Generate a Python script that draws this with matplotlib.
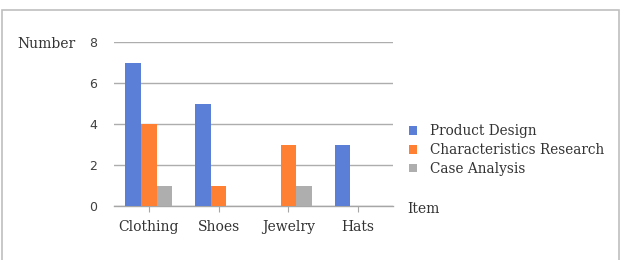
import matplotlib
matplotlib.use("Agg")
import matplotlib.pyplot as plt
import numpy as np
from matplotlib.patches import Rectangle

# data
items = ['Clothing', 'Shoes', 'Jewelry', 'Hats']
product_design = [7, 5, 0, 3]
characteristics_research = [4, 1, 3, 0]
case_analysis = [1, 0, 1, 0]
series_names = ['Product Design', 'Characteristics Research', 'Case Analysis']
colors = ['#5B7FD7', '#FF8033', '#AEAEAE']

serif = 'DejaVu Serif'

W, H = 625, 260
fig = plt.figure(figsize=(W / 100, H / 100), dpi=100)

# outer frame of the chart (bottom edge runs off the picture)
fig.patches.append(Rectangle((2 / W, -0.05), 617 / W, 250 / H + 0.05,
                             transform=fig.transFigure, fill=False,
                             edgecolor='#BFBFBF', linewidth=1.2))

ax = fig.add_axes([114 / W, 1 - 206 / H, (393 - 114) / W, (206 - 42) / H])

x = np.arange(len(items))
w = 0.225
for i, (vals, name) in enumerate(zip([product_design, characteristics_research, case_analysis], series_names)):
    ax.bar(x + (i - 1) * w, vals, w, color=colors[i], label=name, zorder=3)

ax.set_xlim(-0.5, len(items) - 0.5)
ax.set_ylim(0, 8)
ax.set_yticks([0, 2, 4, 6, 8])
ax.yaxis.grid(True, color='#ADADAD', linewidth=1.0, zorder=0)
ax.set_axisbelow(True)
for s in ['left', 'right', 'top']:
    ax.spines[s].set_visible(False)
ax.spines['bottom'].set_color('#A6A6A6')
ax.spines['bottom'].set_linewidth(1.0)

ax.set_xticks(x)
ax.set_xticklabels(items, fontfamily=serif, fontsize=10, color='#333333')
ax.tick_params(axis='x', length=4, color='#A6A6A6', pad=6)
ax.tick_params(axis='y', length=0, labelsize=9, colors='#404040', pad=12)

fig.text(17 / W, 1 - 44 / H, 'Number', fontfamily=serif, fontsize=10,
         color='#333333', va='center', ha='left')
fig.text(407 / W, 1 - 209 / H, 'Item', fontfamily=serif, fontsize=10,
         color='#333333', va='center', ha='left')

ax.legend(loc='center left', bbox_to_anchor=(397 / W, 1 - 150 / H),
          bbox_transform=fig.transFigure, frameon=False,
          prop={'family': serif, 'size': 9.8}, handlelength=0.6,
          handleheight=0.6, handletextpad=0.9, labelspacing=0.35,
          labelcolor='#333333')

fig.savefig('out.png', dpi=100)
